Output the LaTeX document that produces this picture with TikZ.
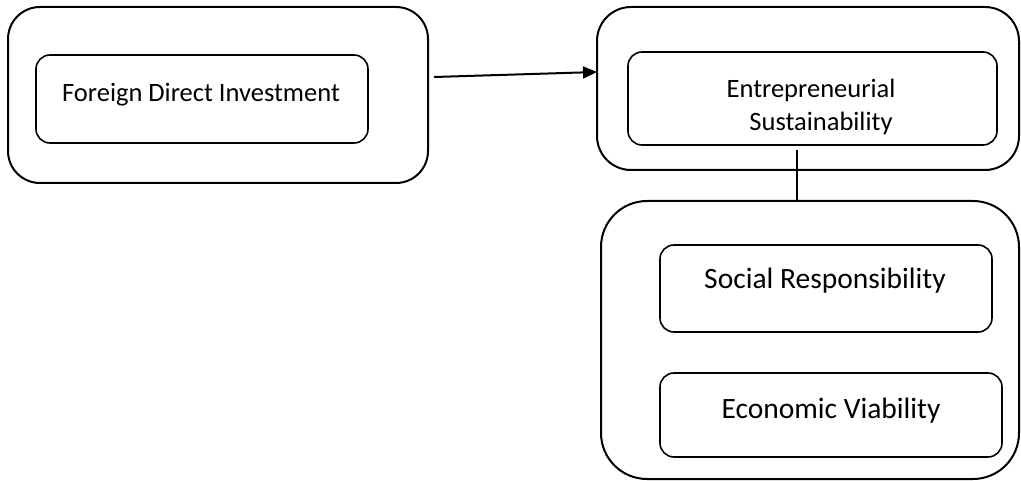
\documentclass[tikz,border=0pt]{standalone}
\usepackage{fontspec}
\setmainfont{Carlito}
\usetikzlibrary{arrows.meta}
\begin{document}
\begin{tikzpicture}[x=1pt,y=-1pt,
  outerbox/.style={draw,line width=2pt,rounded corners=#1},
  innerbox/.style={draw,line width=1.6pt,rounded corners=14pt},
  lbl/.style={inner sep=0pt,anchor=base}]
\useasboundingbox (0,0) rectangle (1021,481);
% outer containers
\draw[outerbox=32pt] (8,7) rectangle (428,183);
\draw[outerbox=34pt] (597,7) rectangle (1019,170);
\draw[outerbox=46pt] (601,201) rectangle (1019,479);
% inner boxes
\node[innerbox,minimum width=332pt,minimum height=88pt] (fdi) at (202,99) {};
\node[lbl,font=\fontsize{26.5}{30}\selectfont] (fdit) at (201,102) {Foreign Direct Investment};
\node[innerbox,minimum width=369pt,minimum height=93pt] (es) at (812.5,98.5) {};
\node[lbl,font=\fontsize{26.5}{30}\selectfont] (est1) at (811,98) {Entrepreneurial};
\node[lbl,font=\fontsize{26.5}{30}\selectfont] (est2) at (821,131) {Sustainability};
\node[innerbox,minimum width=332pt,minimum height=87pt] (sr) at (826,288.5) {};
\node[lbl,font=\fontsize{29.5}{34}\selectfont] (srt) at (825,289) {Social Responsibility};
\node[innerbox,minimum width=342pt,minimum height=84pt] (ev) at (831,415) {};
\node[lbl,font=\fontsize{29.5}{34}\selectfont] (evt) at (831,418) {Economic Viability};
% connectors
\coordinate (a1) at (434,77);
\coordinate (a2) at (597,72);
\draw[line width=2pt,-{Triangle[length=14pt,width=12pt]}] (a1) -- (a2);
\coordinate (v1) at (797,150);
\coordinate (v2) at (797,201);
\draw[line width=1.6pt] (v1) -- (v2);
\end{tikzpicture}
\end{document}
